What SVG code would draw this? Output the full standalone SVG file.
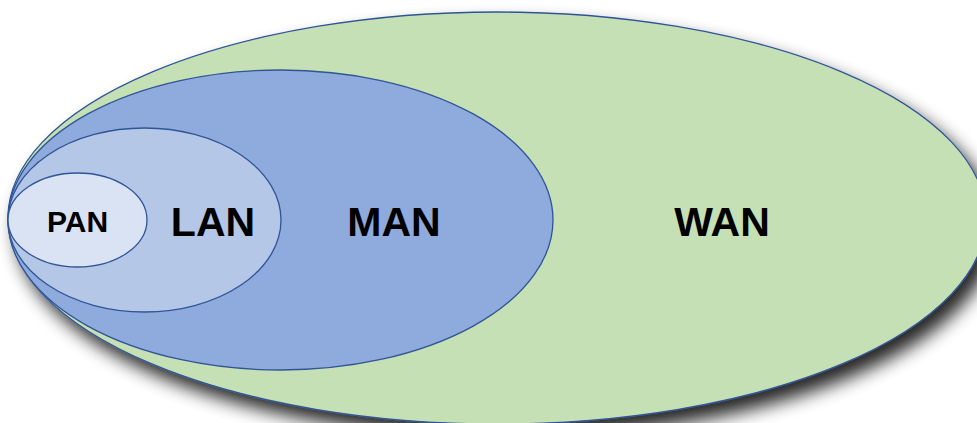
<svg xmlns="http://www.w3.org/2000/svg" width="977" height="423" viewBox="0 0 977 423">
<defs>
<filter id="sh" x="-10%" y="-20%" width="125%" height="150%">
<feGaussianBlur in="SourceAlpha" stdDeviation="9"/>
<feOffset dx="9" dy="12" result="b"/>
<feComponentTransfer><feFuncA type="linear" slope="0.85"/></feComponentTransfer>
<feMerge><feMergeNode/><feMergeNode in="SourceGraphic"/></feMerge>
</filter>
<style>
ellipse{stroke:#2F5597;stroke-width:1.3}
text{font-family:"Liberation Sans",Arial,sans-serif;font-weight:bold;fill:#000;text-anchor:middle}
</style>
</defs>
<rect width="977" height="423" fill="#fff"/>
<g id="wan"><ellipse cx="497" cy="218" rx="489" ry="206" fill="#C5E0B4" filter="url(#sh)"/><text x="722" y="236" font-size="41">WAN</text></g>
<g id="man"><ellipse cx="280.5" cy="220" rx="272.5" ry="150" fill="#8FAADC"/><text x="394" y="236" font-size="41">MAN</text></g>
<g id="lan"><ellipse cx="144.5" cy="220" rx="136.5" ry="92" fill="#B4C7E7"/><text x="213" y="236" font-size="41">LAN</text></g>
<g id="pan"><ellipse cx="77.5" cy="220" rx="69.5" ry="47" fill="#DAE3F3"/><text x="77.5" y="232" font-size="30">PAN</text></g>
<g id="connectors"/>
</svg>
